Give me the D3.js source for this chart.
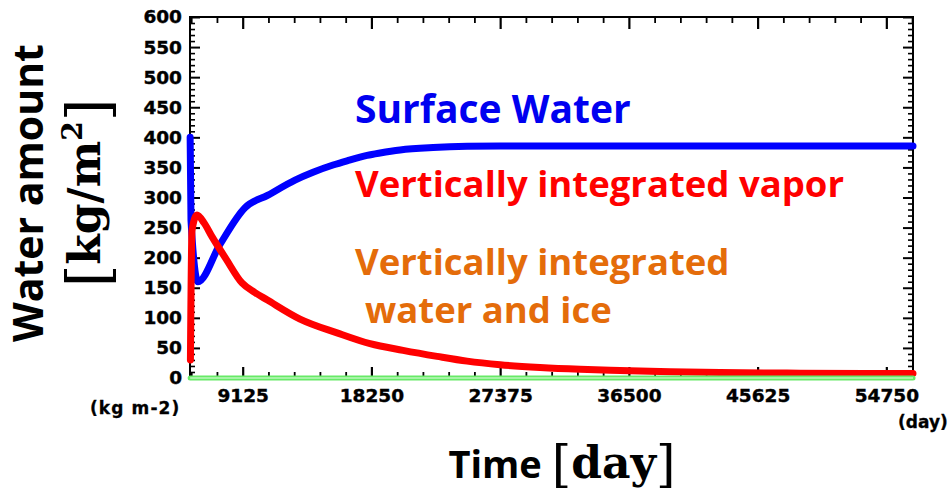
<!DOCTYPE html>
<html>
<head>
<meta charset="utf-8">
<script src="https://cdn.jsdelivr.net/npm/d3@7"></script>
<style>
  html, body { margin: 0; padding: 0; background: #fff; }
  svg { display: block; }
</style>
</head>
<body>
<svg id="chart" width="951" height="492"></svg>
<script>
// Time axis (days) and water amounts (kg m-2)
const surfaceDays  = [5400, 5460, 5955, 7515, 9288, 10920, 12835, 14112, 15530, 16523, 17942, 18864, 20282, 22623, 25034, 27374, 56640];
const surfaceWater = [400, 262, 160, 222, 283, 304, 329, 342, 354, 361, 370, 374, 379, 383, 385, 385.5, 385.5];

const vaporDays = [5420, 5530, 5884, 6380, 6948, 7941, 9075, 9997, 10848, 13189, 15813, 18153, 20493, 22904, 25032, 27372, 30208, 33045, 35882, 39428, 42974, 48647, 56640];
const vapor     = [30, 245, 271, 258, 235, 198, 158, 142, 130, 98, 75, 57, 46, 36, 28, 22, 17.5, 14.5, 12.5, 10.5, 9, 8, 7.5];

const iceDays   = [5400, 9125, 18250, 27375, 36500, 45625, 54750, 56640];
const waterIce  = [0, 0, 0, 0, 0, 0, 0, 0];

const xTicks = [9125, 18250, 27375, 36500, 45625, 54750];
const yTicks = [0, 50, 100, 150, 200, 250, 300, 350, 400, 450, 500, 550, 600];

const svg = d3.select("#chart");
const W = 951, H = 492;
const margin = { left: 190, top: 17, right: 38, bottom: 114 };

svg.append("rect").attr("width", W).attr("height", H).attr("fill", "#fff");

const x = d3.scaleLinear().domain([5390, 56640]).range([margin.left, W - margin.right]);
const y = d3.scaleLinear().domain([0, 600]).range([H - margin.bottom, margin.top]);

const minorX = d3.range(1825, 56640, 1825).filter(d => d > 5390 && xTicks.indexOf(d) < 0);
const minorY = d3.range(0, 601, 10).filter(d => d % 50 !== 0);

const tickFont = "'DejaVu Sans', sans-serif";

function styleAxis(g, w) {
  g.select(".domain").remove();
  g.selectAll(".tick line").attr("stroke", "#000").attr("stroke-width", w);
  g.selectAll(".tick text")
    .attr("font-family", tickFont).attr("font-weight", "bold")
    .attr("font-size", 18.5).attr("fill", "#000")
    .attr("stroke", "#000").attr("stroke-width", 0.4);
}

// left axis with labels, ticks pointing inward
svg.append("g").attr("transform", `translate(${margin.left},0)`)
  .call(d3.axisLeft(y).tickValues(yTicks).tickSizeInner(-10).tickSizeOuter(0).tickPadding(8))
  .call(g => styleAxis(g, 2));
svg.append("g").attr("transform", `translate(${margin.left},0)`)
  .call(d3.axisLeft(y).tickValues(minorY).tickSizeInner(-5).tickSizeOuter(0).tickFormat(""))
  .call(g => styleAxis(g, 1.6));

// right axis, ticks only
svg.append("g").attr("transform", `translate(${W - margin.right},0)`)
  .call(d3.axisRight(y).tickValues(yTicks).tickSizeInner(-10).tickSizeOuter(0).tickFormat(""))
  .call(g => styleAxis(g, 2));
svg.append("g").attr("transform", `translate(${W - margin.right},0)`)
  .call(d3.axisRight(y).tickValues(minorY).tickSizeInner(-5).tickSizeOuter(0).tickFormat(""))
  .call(g => styleAxis(g, 1.6));

// bottom axis with labels
svg.append("g").attr("transform", `translate(0,${H - margin.bottom})`)
  .call(d3.axisBottom(x).tickValues(xTicks).tickSizeInner(-11).tickSizeOuter(0).tickPadding(10.5).tickFormat(d3.format("d")))
  .call(g => styleAxis(g, 2.2));
svg.append("g").attr("transform", `translate(0,${H - margin.bottom})`)
  .call(d3.axisBottom(x).tickValues(minorX).tickSizeInner(-6).tickSizeOuter(0).tickFormat(""))
  .call(g => styleAxis(g, 1.8));

// top axis, ticks only
svg.append("g").attr("transform", `translate(0,${margin.top})`)
  .call(d3.axisTop(x).tickValues(xTicks).tickSizeInner(-12).tickSizeOuter(0).tickFormat(""))
  .call(g => styleAxis(g, 2.2));
svg.append("g").attr("transform", `translate(0,${margin.top})`)
  .call(d3.axisTop(x).tickValues(minorX).tickSizeInner(-6).tickSizeOuter(0).tickFormat(""))
  .call(g => styleAxis(g, 1.8));

// plot frame
svg.append("rect")
  .attr("x", margin.left).attr("y", margin.top)
  .attr("width", W - margin.left - margin.right)
  .attr("height", H - margin.top - margin.bottom)
  .attr("fill", "none").attr("stroke", "#000").attr("stroke-width", 2);

// series
const line = d3.line().x(d => x(d[0])).y(d => y(d[1])).curve(d3.curveMonotoneX);

svg.append("path")
  .attr("d", line(d3.zip(surfaceDays, surfaceWater)))
  .attr("fill", "none").attr("stroke", "#0000ff").attr("stroke-width", 7)
  .attr("stroke-linecap", "round").attr("stroke-linejoin", "round");

svg.append("path")
  .attr("d", line(d3.zip(vaporDays, vapor)))
  .attr("fill", "none").attr("stroke", "#ff0000").attr("stroke-width", 7)
  .attr("stroke-linecap", "round").attr("stroke-linejoin", "round");

const icePath = line(d3.zip(iceDays, waterIce));
svg.append("path").attr("d", icePath)
  .attr("fill", "none").attr("stroke", "#66ea66").attr("stroke-width", 5)
  .attr("stroke-linecap", "round");
svg.append("path").attr("d", icePath)
  .attr("fill", "none").attr("stroke", "#e6fbe6").attr("stroke-width", 1.2);

// unit labels
svg.append("text").attr("x", 90).attr("y", 414)
  .attr("font-family", tickFont).attr("font-weight", "bold").attr("font-size", 17)
  .attr("letter-spacing", 1.1).attr("stroke", "#000").attr("stroke-width", 0.3)
  .text("(kg m-2)");
svg.append("text").attr("x", 898).attr("y", 428)
  .attr("font-family", tickFont).attr("font-weight", "bold").attr("font-size", 17)
  .attr("stroke", "#000").attr("stroke-width", 0.3)
  .text("(day)");

// series annotations
const annoFont = "'Open Sans', sans-serif";
svg.append("text").attr("x", 355).attr("y", 123)
  .attr("font-family", annoFont).attr("font-weight", "bold").attr("font-size", 39)
  .attr("fill", "#0000f0").text("Surface Water");
svg.append("text").attr("x", 355).attr("y", 197)
  .attr("font-family", annoFont).attr("font-weight", "bold").attr("font-size", 36.5)
  .attr("fill", "#ff0000").text("Vertically integrated vapor");
svg.append("text").attr("x", 355).attr("y", 275)
  .attr("font-family", annoFont).attr("font-weight", "bold").attr("font-size", 36.5)
  .attr("fill", "#e46c0a").text("Vertically integrated");
svg.append("text").attr("x", 365).attr("y", 323)
  .attr("font-family", annoFont).attr("font-weight", "bold").attr("font-size", 36.5)
  .attr("fill", "#e46c0a").text("water and ice");

// y axis title
const serif = "'DejaVu Serif', serif";
svg.append("text").attr("transform", "translate(43,193) rotate(-90)")
  .attr("text-anchor", "middle")
  .attr("font-family", annoFont).attr("font-weight", "bold").attr("font-size", 41)
  .text("Water amount");

const yUnit = svg.append("text").attr("transform", "translate(100,193) rotate(-90)")
  .attr("text-anchor", "middle").attr("font-family", serif);
yUnit.append("tspan").attr("font-size", 58).attr("dy", 8).text("[");
yUnit.append("tspan").attr("font-size", 44).attr("font-weight", "bold").attr("dy", -8).text("kg/m");
yUnit.append("tspan").attr("font-size", 28).attr("font-weight", "bold").attr("dy", -18).text("2");
yUnit.append("tspan").attr("font-size", 58).attr("dy", 26).text("]");

// x axis title
const xTitle = svg.append("text").attr("x", 562).attr("y", 478).attr("text-anchor", "middle");
xTitle.append("tspan").attr("font-family", annoFont).attr("font-weight", "bold").attr("font-size", 38).text("Time ");
xTitle.append("tspan").attr("font-family", serif).attr("font-size", 50).attr("dy", 3).text("[");
xTitle.append("tspan").attr("font-family", serif).attr("font-weight", "bold").attr("font-size", 44).attr("dy", -3).text("day");
xTitle.append("tspan").attr("font-family", serif).attr("font-size", 50).attr("dy", 3).text("]");
</script>
</body>
</html>
